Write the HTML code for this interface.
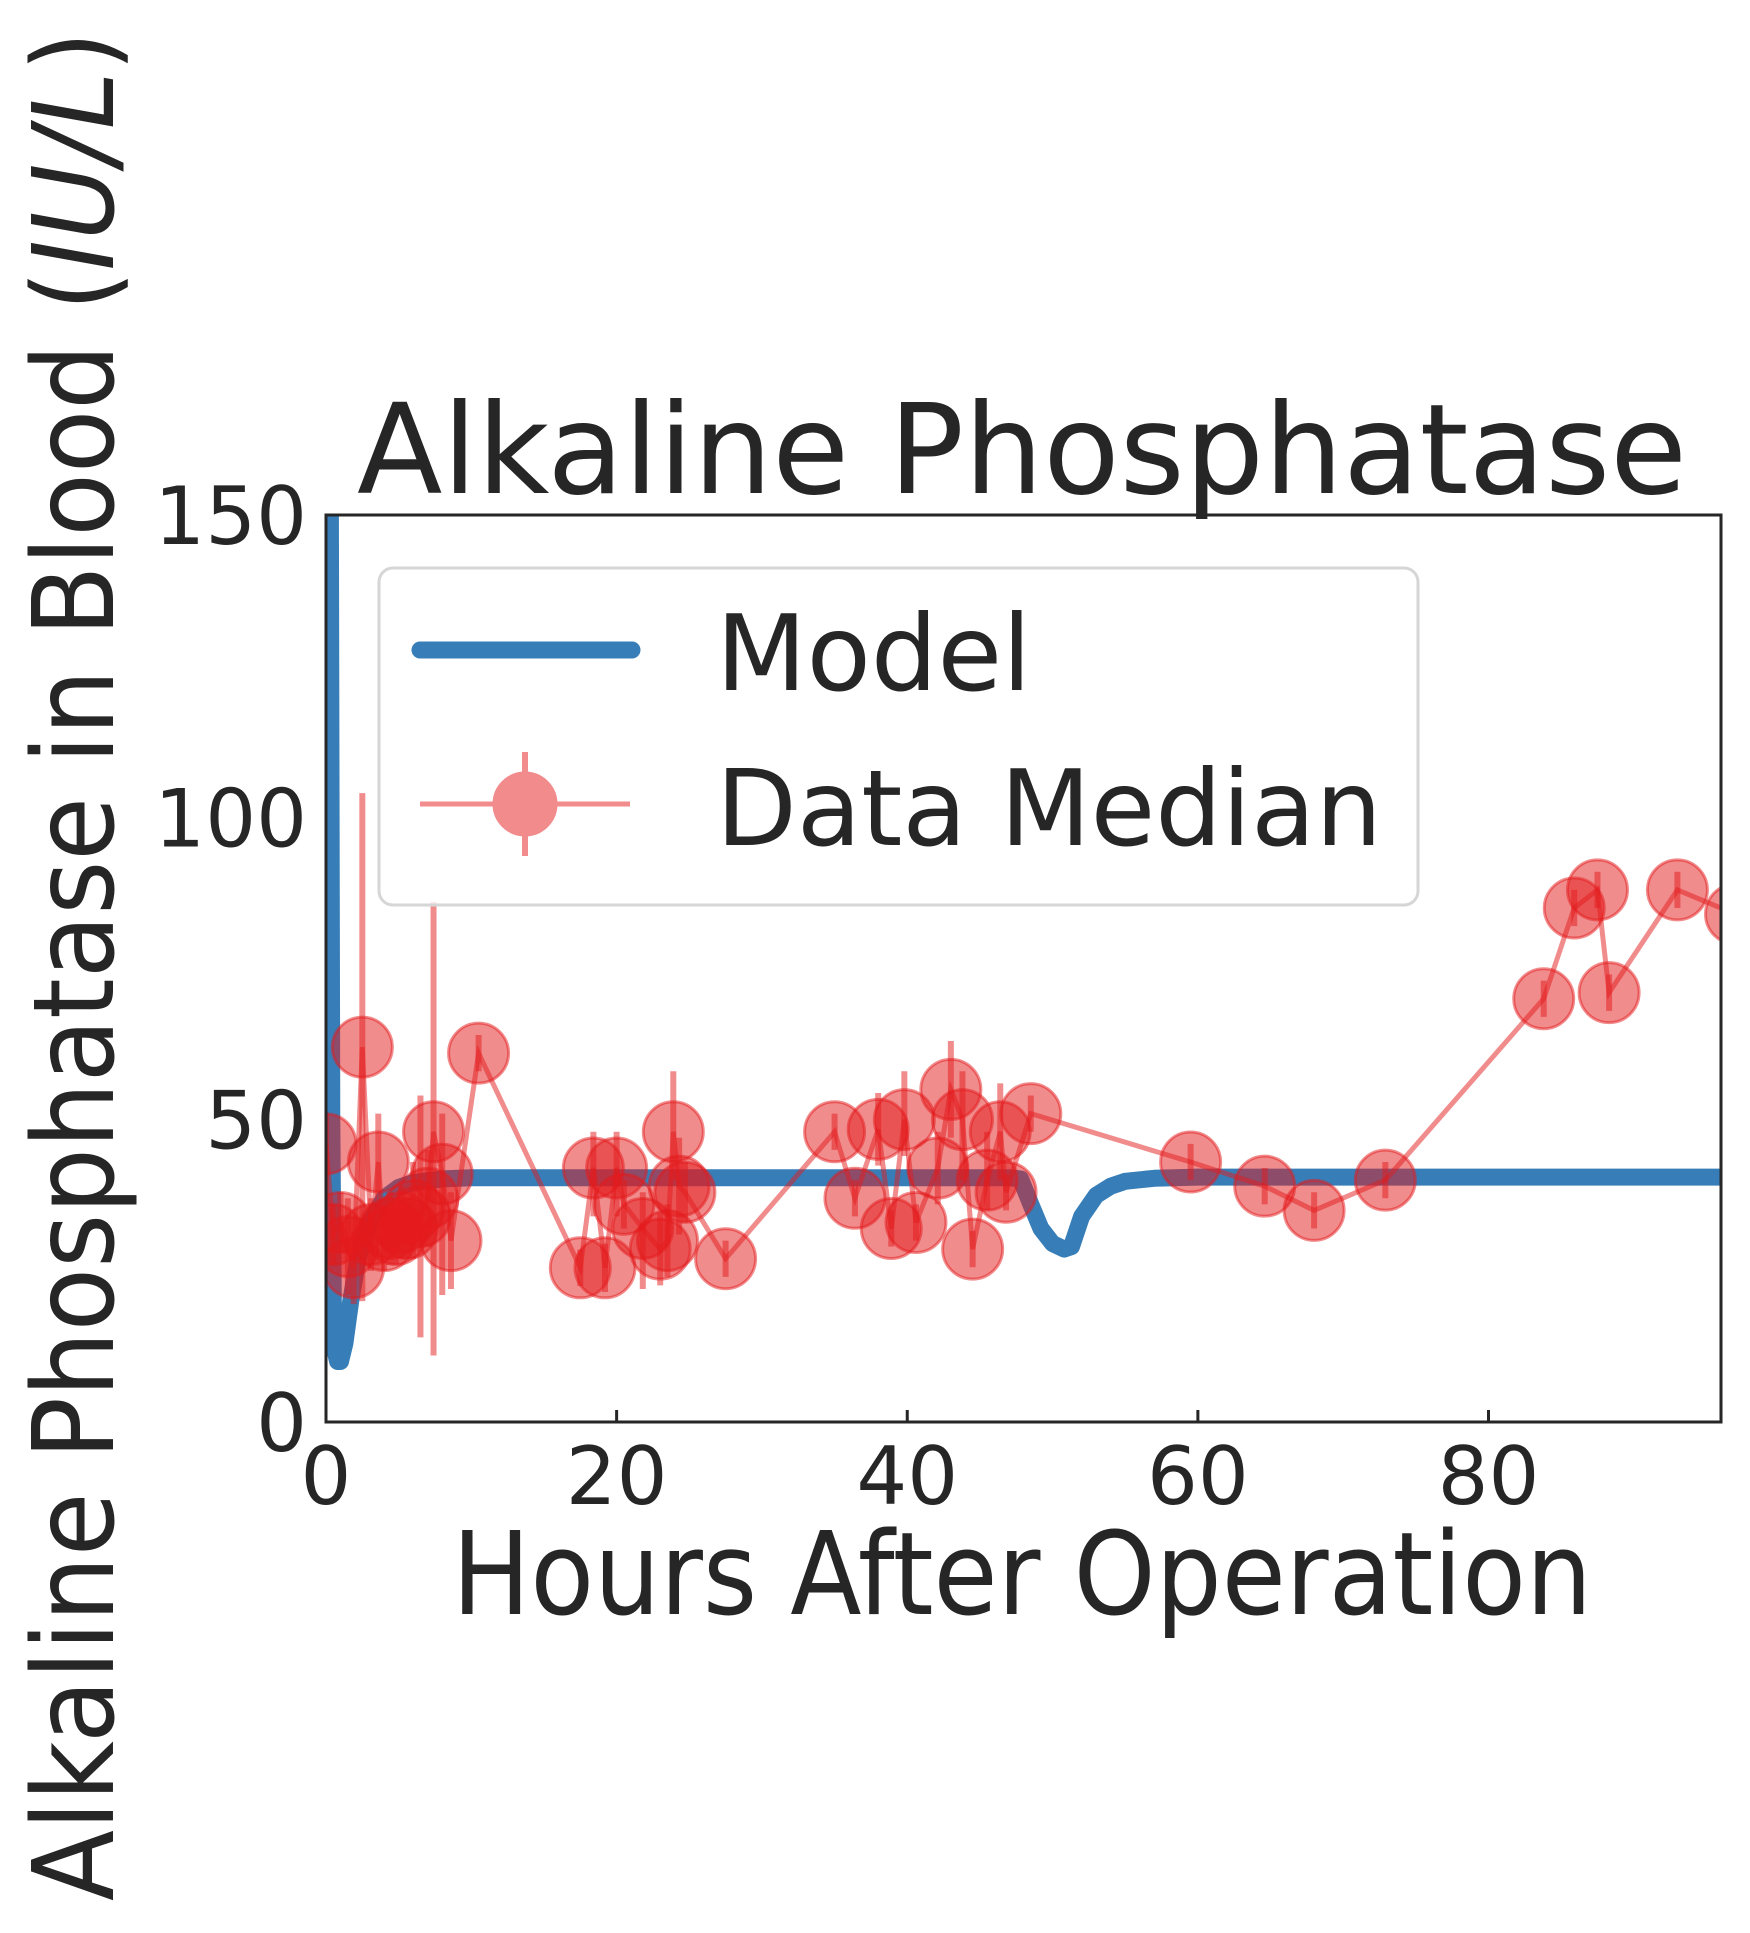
<!DOCTYPE html>
<html><head><meta charset="utf-8"><style>
html,body{margin:0;padding:0;background:#fff;}
svg{display:block;font-family:"DejaVu Sans","Liberation Sans",sans-serif;}
</style></head><body>
<svg id="chart" width="1750" height="1933" viewBox="0 0 1750 1933" xmlns="http://www.w3.org/2000/svg">
<rect x="0" y="0" width="1750" height="1933" fill="#fff"/>
<text x="1022" y="493" font-size="125" fill="#262626" text-anchor="middle" textLength="1330" lengthAdjust="spacingAndGlyphs">Alkaline Phosphatase</text>
<text x="1022" y="1614" font-size="115" fill="#262626" text-anchor="middle" textLength="1140" lengthAdjust="spacingAndGlyphs">Hours After Operation</text>
<text transform="translate(113,966) rotate(-90)" font-size="112" fill="#262626" text-anchor="middle" textLength="1870" lengthAdjust="spacingAndGlyphs">Alkaline Phosphatase in Blood (<tspan font-style="italic">IU/L</tspan>)</text>
<defs><clipPath id="plotclip"><rect x="326" y="515" width="1395" height="907"/></clipPath></defs>
<g id="ticks"></g>
<g id="marks" clip-path="url(#plotclip)"></g>
<rect x="326" y="515" width="1395" height="907" fill="none" stroke="#262626" stroke-width="3"/>
<g>
<rect x="379" y="568" width="1039" height="337" rx="14" fill="#fff" fill-opacity="0.8" stroke="#d6d6d6" stroke-width="3"/>
<line x1="420" y1="650" x2="632" y2="650" stroke="#377eb8" stroke-width="17" stroke-linecap="round"/>
<text x="716" y="690" font-size="105" fill="#262626">Model</text>
<g opacity="0.5">
<line x1="420" y1="804" x2="630" y2="804" stroke="#e41a1c" stroke-width="5"/>
<line x1="525" y1="752" x2="525" y2="856" stroke="#e41a1c" stroke-width="6"/>
<circle cx="525" cy="804" r="31" fill="#e41a1c" stroke="#e41a1c" stroke-width="3"/>
</g>
<text x="716" y="845" font-size="105" fill="#262626">Data Median</text>
</g>
</svg>
<script>
const xTicks = [0, 20, 40, 60, 80];
const yTicks = [0, 50, 100, 150];
const modelT = [0.3,0.35,0.4,0.5,0.6,0.8,1.0,1.3,1.7,2.2,3,4,5,6,8,10,14,20,30,40,47,47.8,48.5,49.2,50,50.8,51.3,52,53,54,55,57,60,70,80,90,97];
const modelV = [150,100,50,20,12,10,10,13,20,27,33,37,38.8,39.6,40.2,40.4,40.4,40.4,40.4,40.4,40.4,40.2,36,32,29.5,28.6,29,34,37.5,39,39.8,40.3,40.5,40.5,40.5,40.5,40.5];
const dataT = [0,0.5,1.0,1.5,1.9,2.5,3.1,3.6,4.0,4.4,4.8,5.2,5.6,6.0,6.5,7.0,7.4,8.0,8.6,10.5,17.5,18.4,19.2,20.0,20.5,21.8,23.0,23.5,23.9,24.3,24.7,27.5,35.0,36.4,38.0,38.9,39.8,40.6,42.1,43.0,43.8,44.5,45.5,46.4,46.8,48.5,59.5,64.6,68.0,72.9,83.8,85.9,87.5,88.3,93.0,97.0];
const dataV = [46,31,33,29,25.5,62,31,43,30,32,31,33,32,35,34,37,48,41,30,61,25.5,42,25.5,42,36,32,28.6,30,48,39,38,27,48,37,48.4,32,50,33,42,55,50,28.6,40,48,38,51,43,39,35,40,70,85,88,71,88,84];
const errLo = [10,5,5,8,6,42,6,8,5,6,5,6,5,8,20,8,37,20,8,3,3,8,4,8,4,10,6,6,8,8,5,3,3,3,6,3,6,3,6,8,10,3,5,8,3,3,3,3,3,3,3,3,3,3,3,3];
const errHi = [5,5,5,8,6,42,6,8,5,6,5,6,5,8,20,8,38,10,8,3,3,6,4,6,4,6,6,6,10,8,5,3,3,3,6,3,8,3,6,8,8,3,8,8,3,3,3,3,3,3,3,3,3,3,3,3];

const X0 = 326, XW = 1395, XMAX = 96;
const Y0 = 1422, YH = 907, YMAX = 150;
function sx(t){ return X0 + t / XMAX * XW; }
function sy(v){ return Y0 - v / YMAX * YH; }
const NS = 'http://www.w3.org/2000/svg';
function mk(tag, attrs, parent){ const e = document.createElementNS(NS, tag); for (const k in attrs) e.setAttribute(k, attrs[k]); parent.appendChild(e); return e; }

const ticks = document.getElementById('ticks');
const marks = document.getElementById('marks');
xTicks.forEach(t => {
  const l = mk('line', {x1: sx(t), x2: sx(t), y1: Y0, y2: Y0 - 12, stroke: '#262626', 'stroke-width': 3}, ticks);
  
  
  const tx = mk('text', {x: sx(t), y: 1504, 'font-size': 80, fill: '#262626', 'text-anchor': 'middle'}, ticks);
  tx.textContent = t;
  
  
});
yTicks.forEach(v => {
  const l = mk('line', {x1: X0, x2: X0 + 12, y1: sy(v), y2: sy(v), stroke: '#262626', 'stroke-width': 3}, ticks);
  
  
  const tx = mk('text', {x: 307, y: sy(v) + 29, 'font-size': 80, fill: '#262626', 'text-anchor': 'end'}, ticks);
  tx.textContent = v;
  
  
});

let d = '';
modelT.forEach((t, i) => { d += (i ? 'L' : 'M') + sx(t).toFixed(1) + ',' + sy(modelV[i]).toFixed(1); });
const model = mk('path', {d: d, fill: 'none', stroke: '#377eb8', 'stroke-width': 17, 'stroke-linejoin': 'round', 'stroke-linecap': 'round'}, marks);



let d2 = '';
dataT.forEach((t, i) => { d2 += (i ? 'L' : 'M') + sx(t).toFixed(1) + ',' + sy(dataV[i]).toFixed(1); });
const dl = mk('path', {d: d2, fill: 'none', stroke: '#e41a1c', 'stroke-width': 5, 'stroke-opacity': 0.5, 'stroke-linejoin': 'miter'}, marks);



dataT.forEach((t, i) => {
  const eb = mk('line', {x1: sx(t), x2: sx(t), y1: sy(dataV[i] - errLo[i]), y2: sy(dataV[i] + errHi[i]), stroke: '#e41a1c', 'stroke-width': 6, 'stroke-opacity': 0.5}, marks);
  
  
  const c = mk('circle', {cx: sx(t), cy: sy(dataV[i]), r: 30, fill: '#e41a1c', 'fill-opacity': 0.5, stroke: '#e41a1c', 'stroke-opacity': 0.5, 'stroke-width': 3}, marks);
  
  
});
</script>
</body></html>
